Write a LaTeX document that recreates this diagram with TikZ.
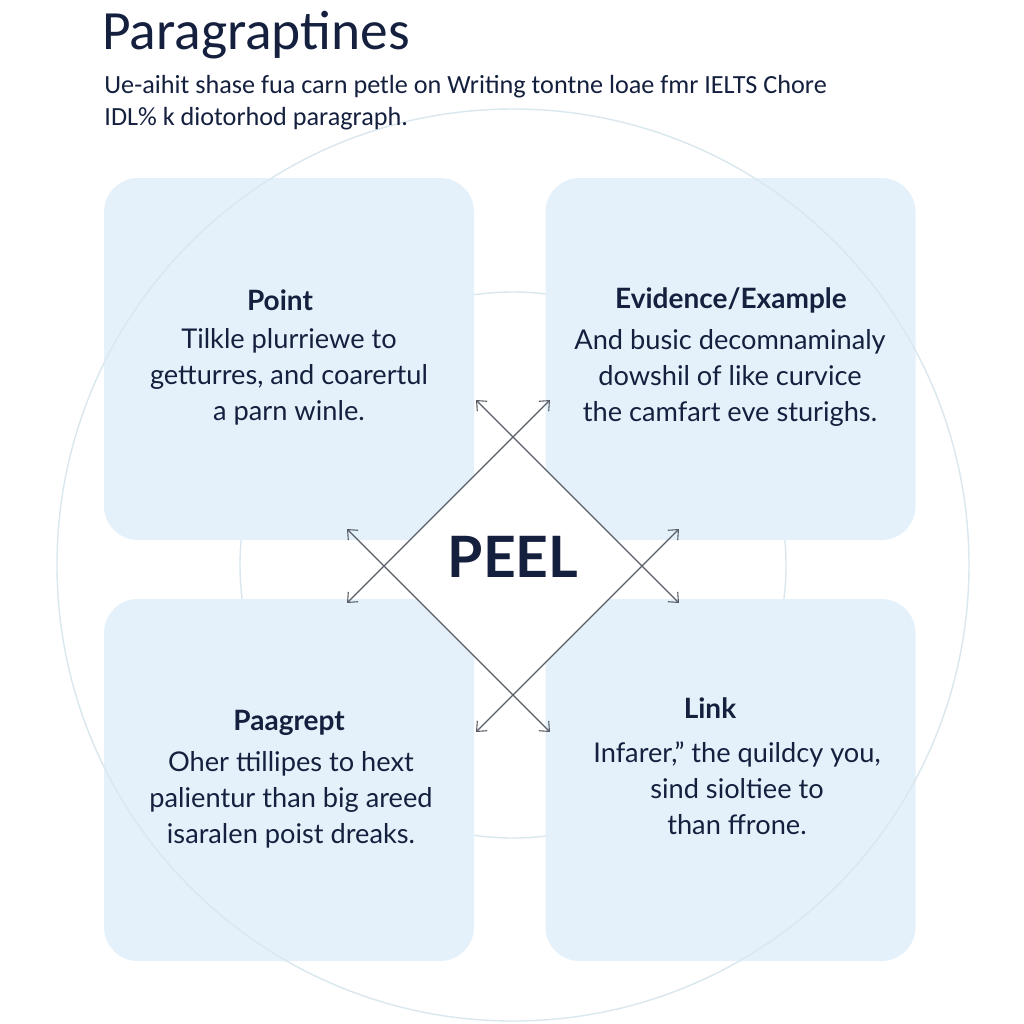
\documentclass[tikz,border=0pt]{standalone}
\usepackage{fontspec}
\setmainfont{Lato}
\newfontfamily\subfont{Carlito}
\usetikzlibrary{arrows.meta,shapes.geometric,calc}
\definecolor{navy}{HTML}{15203F}
\definecolor{boxfill}{HTML}{E5F1FA}
\definecolor{ringcol}{HTML}{D9E7EE}
\definecolor{arrowcol}{HTML}{595E66}
\begin{document}
\begin{tikzpicture}[x=0.5pt,y=-0.5pt,
  card/.style={fill=boxfill, draw=none, rounded corners=17pt, minimum width=185pt, minimum height=181pt, inner sep=0pt},
  ring/.style={draw=ringcol, line width=0.7pt},
  cardtitle/.style={text=navy, font=\fontsize{14}{16}\selectfont\bfseries, inner sep=0pt},
  cardbody/.style={text=navy, font=\fontsize{13.6}{18}\selectfont, align=center, inner sep=0pt},
  link/.style={draw=arrowcol, line width=0.55pt, {Straight Barb[length=4pt,width=7pt]}-{Straight Barb[length=4pt,width=7pt]}}]
\useasboundingbox (0,0) rectangle (1024,1024);
\fill[white] (0,0) rectangle (1024,1024);
% inner ring
\draw[ring] (513,565) circle (273);
% cards
\node[card] (pt) at (289,359) {};
\node[card] (ev) at (730.5,359) {};
\node[card] (pa) at (289,780) {};
\node[card] (lk) at (730.5,780) {};
% outer ring
\draw[ring] (513,565) circle (456);
% diamond
\coordinate (T) at (513,437);
\coordinate (R) at (642,566);
\coordinate (B) at (513,695);
\coordinate (L) at (384,566);
\fill[white] (T) -- (R) -- (B) -- (L) -- cycle;
\coordinate (a1) at ($(T)+(-37,-37)$);
\coordinate (a2) at ($(R)+(37,37)$);
\coordinate (b1) at ($(T)+(37,-37)$);
\coordinate (b2) at ($(L)+(-37,37)$);
\coordinate (c1) at ($(L)+(-37,-37)$);
\coordinate (c2) at ($(B)+(37,37)$);
\coordinate (d1) at ($(R)+(37,-37)$);
\coordinate (d2) at ($(B)+(-37,37)$);
\draw[link] (a1) -- (a2);
\draw[link] (b1) -- (b2);
\draw[link] (c1) -- (c2);
\draw[link] (d1) -- (d2);
\node[text=navy, font=\fontsize{28.5}{30}\selectfont\bfseries, inner sep=0pt] (peel) at (513,557) {PEEL};
% header
\node[anchor=west, text=navy, font=\subfont\fontsize{27.7}{32}\selectfont, inner sep=0pt] (title) at (102,35) {Paragraptines};
\node[anchor=north west, text=navy, font=\subfont\fontsize{13.1}{15.8}\selectfont, align=left, inner sep=0pt] (sub) at (104,75) {Ue-aihit shase fua carn petle on Writing tontne loae fmr IELTS Chore\\IDL\% k diotorhod paragraph.};
% card texts
\node[cardtitle] (ptt) at (280,300) {Point};
\node[cardbody] (ptb) at (289,377) {Tilkle plurriewe to\\getturres, and coarertul\\a parn winle.};
\node[cardtitle] (evt) at (731,300) {Evidence/Example};
\node[cardbody] (evb) at (730,378) {And busic decomnaminaly\\dowshil of like curvice\\the camfart eve sturighs.};
\node[cardtitle] (pat) at (289,723) {Paagrept};
\node[cardbody] (pab) at (291,800) {Oher ttillipes to hext\\palientur than big areed\\isaralen poist dreaks.};
\node[cardtitle] (lkt) at (710,708) {Link};
\node[cardbody] (lkb) at (737,788) {Infarer,'' the quildcy you,\\sind sioltiee to\\than ffrone.};
\end{tikzpicture}
\end{document}
